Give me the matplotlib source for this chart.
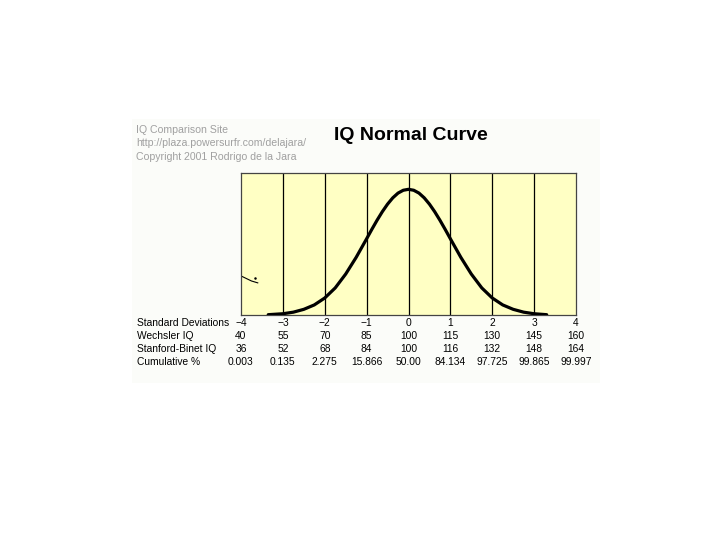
import matplotlib
matplotlib.use("Agg")
import matplotlib.pyplot as plt
from matplotlib.patches import Rectangle

plt.rcParams['font.family'] = ['Liberation Sans', 'DejaVu Sans']

# ---- data ----
sd_ticks = [-4, -3, -2, -1, 0, 1, 2, 3, 4]
wechsler = ["40", "55", "70", "85", "100", "115", "130", "145", "160"]
stanford = ["36", "52", "68", "84", "100", "116", "132", "148", "164"]
cumulative = ["0.003", "0.135", "2.275", "15.866", "50.00", "84.134", "97.725", "99.865", "99.997"]
row_labels = ["Standard Deviations", "Wechsler IQ", "Stanford-Binet IQ", "Cumulative %"]

curve_x = [-3.35, -3.0, -2.75, -2.5, -2.25, -2.0, -1.75, -1.5, -1.25, -1.0, -0.875, -0.75, -0.625,
           -0.5, -0.375, -0.25, -0.125, 0.0, 0.125, 0.25, 0.375, 0.5, 0.625, 0.75, 0.875,
           1.0, 1.25, 1.5, 1.75, 2.0, 2.25, 2.5, 2.75, 3.0, 3.3]
curve_y = [0.001, 0.004, 0.009, 0.018, 0.032, 0.054, 0.086, 0.130, 0.183, 0.242, 0.272, 0.301, 0.328,
           0.352, 0.372, 0.387, 0.396, 0.399, 0.396, 0.387, 0.372, 0.352, 0.328, 0.301, 0.272,
           0.242, 0.183, 0.130, 0.086, 0.054, 0.032, 0.018, 0.009, 0.004, 0.001]

W, H = 720, 557
fig = plt.figure(figsize=(W / 100, H / 100), dpi=100)
fig.patch.set_facecolor('white')

def fx(px):
    return px / W

def fy(py):
    return 1 - py / H

# faint background of the embedded image
bg = Rectangle((fx(132), fy(383)), fx(600) - fx(132), fy(119) - fy(383),
               transform=fig.transFigure, facecolor='#fbfcf9', edgecolor='none', zorder=-5)
fig.patches.append(bg)

ax = fig.add_axes([fx(241), fy(315), fx(576) - fx(241), fy(173) - fy(315)])
ax.set_zorder(5)
ax.set_facecolor('#ffffc4')
ax.set_xlim(-4, 4)
ax.set_ylim(0, 0.4 * 142 / 126)
for v in sd_ticks[1:-1]:
    ax.axvline(v, color='black', lw=0.9, zorder=1)
ax.plot(curve_x, curve_y, color='black', lw=2.3, zorder=3, solid_joinstyle='round',
        solid_capstyle='round')
# stray mark at the left
ax.plot([-4.0, -3.75, -3.6], [0.124, 0.108, 0.102], color='black', lw=0.8)
ax.plot([-3.67], [0.118], marker='o', ms=0.8, color='black')
ax.set_xticks([])
ax.set_yticks([])
for s in ax.spines.values():
    s.set_color('#444444')
    s.set_linewidth(0.9)

# header texts
for i, t in enumerate(["IQ Comparison Site", "http://plaza.powersurfr.com/delajara/",
                       "Copyright 2001 Rodrigo de la Jara"]):
    fig.text(fx(136), fy(130 + 13.3 * i), t, fontsize=7.6, color='#a0a0a0', ha='left', va='center')
fig.text(fx(411), fy(136), "IQ Normal Curve", fontsize=14, fontweight='bold', ha='center', va='center')

# table below
rows = [[str(v) for v in sd_ticks], wechsler, stanford, cumulative]
row_y = [323, 336, 349, 362]
for label, vals, yy in zip(row_labels, rows, row_y):
    fig.text(fx(137), fy(yy), label, fontsize=7.4, ha='left', va='center')
    for sd, val in zip(sd_ticks, vals):
        xp = ax.transData.transform((sd, 0))[0]
        txt = val.replace('-', '\u2212') if label == "Standard Deviations" else val
        fig.text(xp / fig.bbox.width, fy(yy), txt, fontsize=7.4, ha='center', va='center')

fig.savefig("out.png", dpi=100, facecolor='white')
